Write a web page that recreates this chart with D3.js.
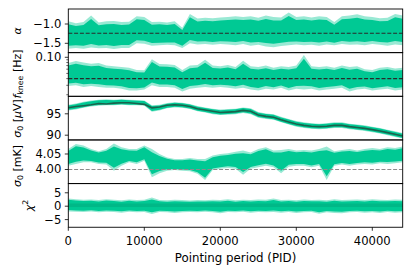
<!DOCTYPE html>
<html>
<head>
<meta charset="utf-8">
<script src="https://cdn.jsdelivr.net/npm/d3@7"></script>
<style>
  body { margin: 0; background: #fff; }
  text { font-family: "DejaVu Sans", sans-serif; fill: #000; }
</style>
</head>
<body>
<svg id="chart" width="412" height="273"></svg>
<script>
// pointing periods sampled every 1000 PID
const pids = [0,1000,2000,3000,4000,5000,6000,7000,8000,9000,10000,11000,12000,13000,14000,15000,16000,17000,18000,19000,20000,21000,22000,23000,24000,25000,26000,27000,28000,29000,30000,31000,32000,33000,34000,35000,36000,37000,38000,39000,40000,41000,42000,43000,44000];
const xTicks = [0, 10000, 20000, 30000, 40000];

// alpha: upper / lower envelope of the scatter
const alphaHi = [-0.93,-0.98,-0.95,-0.78,-0.96,-0.93,-0.92,-0.95,-0.94,-0.80,-0.82,-0.95,-0.94,-0.96,-0.93,-1.10,-0.74,-0.86,-0.84,-0.85,-0.83,-0.82,-0.80,-0.82,-0.80,-0.84,-0.78,-0.82,-0.83,-0.70,-0.82,-0.80,-0.83,-0.80,-0.82,-0.95,-0.80,-0.78,-0.75,-0.80,-0.82,-0.85,-0.84,-0.74,-0.78];
const alphaLo = [-1.64,-1.62,-1.64,-1.61,-1.63,-1.62,-1.65,-1.62,-1.62,-1.50,-1.51,-1.56,-1.55,-1.54,-1.55,-1.62,-1.50,-1.53,-1.52,-1.54,-1.52,-1.53,-1.55,-1.52,-1.56,-1.54,-1.58,-1.60,-1.57,-1.55,-1.53,-1.55,-1.54,-1.56,-1.53,-1.55,-1.52,-1.54,-1.53,-1.55,-1.52,-1.54,-1.56,-1.53,-1.55];
const alphaRef = -1.24;
const alphaTicks = [-1.5, -1.0];

// f_knee [Hz]
const fkHi = [0.078,0.085,0.080,0.076,0.078,0.070,0.068,0.066,0.064,0.058,0.057,0.092,0.075,0.074,0.072,0.058,0.070,0.072,0.090,0.070,0.068,0.072,0.066,0.086,0.068,0.066,0.070,0.064,0.068,0.066,0.070,0.110,0.068,0.066,0.068,0.064,0.070,0.066,0.068,0.060,0.058,0.064,0.066,0.062,0.064];
const fkLo = [0.029,0.030,0.028,0.029,0.028,0.027,0.027,0.026,0.024,0.024,0.025,0.030,0.028,0.028,0.027,0.023,0.026,0.027,0.028,0.027,0.028,0.027,0.026,0.027,0.025,0.024,0.026,0.025,0.027,0.024,0.026,0.025,0.026,0.024,0.025,0.026,0.027,0.023,0.025,0.026,0.024,0.025,0.026,0.024,0.025];
const fkRef = 0.04;
const fkTicks = [0.1];
const fkMinor = [0.02,0.03,0.04,0.05,0.06,0.07,0.08,0.09];

// sigma0 [uV]: scatter band and the dark reference curve
const muHi = [97.1,97.4,97.8,98.1,98.3,98.4,98.3,98.4,98.3,98.2,98.1,97.0,97.1,97.5,97.7,97.6,97.3,96.8,96.5,96.2,96.0,96.1,96.2,96.5,96.3,95.4,95.1,94.9,94.3,93.8,93.3,93.0,92.8,92.7,92.8,93.0,93.0,92.7,92.5,92.3,92.0,91.7,91.3,90.9,90.5];
const muLo = [95.8,96.0,96.4,96.7,96.9,97.0,97.0,97.1,97.0,97.0,96.9,95.5,95.8,96.3,96.5,96.4,96.1,95.6,95.3,94.9,94.7,94.8,94.9,95.2,94.9,94.1,93.8,93.6,93.0,92.5,92.0,91.7,91.5,91.4,91.5,91.7,91.7,91.4,91.2,91.0,90.7,90.4,90.0,89.6,89.2];
const muDark = [96.4,96.7,96.9,97.1,97.4,97.3,97.5,97.6,97.6,97.4,97.2,96.4,96.6,97.0,97.1,97.0,96.7,96.2,95.9,95.6,95.3,95.4,95.5,95.8,95.6,94.7,94.4,94.2,93.6,93.1,92.6,92.3,92.1,92.0,92.1,92.3,92.3,92.0,91.8,91.6,91.3,91.0,90.6,90.2,89.8];
const muTicks = [90, 95];

// sigma0 [mK]
const mkHi = [4.066,4.082,4.077,4.066,4.059,4.066,4.084,4.072,4.066,4.066,4.077,4.066,4.050,4.039,4.034,4.034,4.037,4.034,4.034,4.045,4.050,4.052,4.057,4.061,4.055,4.066,4.072,4.061,4.063,4.066,4.061,4.063,4.061,4.066,4.074,4.059,4.063,4.066,4.061,4.066,4.069,4.066,4.072,4.069,4.074];
const mkLo = [4.012,4.018,4.023,4.023,4.018,4.016,3.996,4.012,4.023,4.018,4.028,3.975,3.988,3.996,3.998,3.996,3.994,3.986,3.966,3.998,4.002,4.005,4.002,3.983,4.002,4.007,4.012,4.007,3.988,4.009,4.012,4.012,4.007,4.012,3.966,4.012,4.016,4.012,4.016,4.018,4.016,4.020,4.018,4.020,4.023];
const mkRef = 4.00;
const mkTicks = [4.00, 4.05];

// chi^2
const chiHi = [2.9,2.6,2.4,2.5,2.3,2.6,2.4,2.2,2.5,2.3,2.4,3.2,2.3,2.2,2.4,2.3,2.1,2.3,2.2,2.4,2.3,2.6,2.2,2.4,2.3,2.5,2.4,2.9,2.3,2.4,2.2,2.5,2.3,2.4,2.2,2.6,2.3,2.4,2.5,2.3,2.6,2.4,2.3,2.5,2.4];
const chiLo = [-2.0,-2.1,-2.2,-2.0,-2.3,-2.1,-2.2,-2.4,-2.1,-2.3,-2.2,-2.9,-2.2,-2.3,-2.5,-2.3,-2.2,-2.3,-2.1,-2.3,-2.6,-2.2,-2.3,-2.1,-2.4,-2.2,-2.3,-2.2,-2.4,-2.2,-2.5,-2.3,-2.2,-2.8,-2.3,-2.5,-2.6,-2.3,-2.2,-2.4,-2.3,-2.5,-2.2,-2.4,-2.3];
const chiCore = [-0.3, 1.0];
const chiTicks = [-5, 0, 5];

const green = "#00c994";
const svg = d3.select("#chart");
const left = 68.3, right = 402.7, top0 = 9, ph = 43.65;
const x = d3.scaleLinear().domain([0, 44000]).range([left, right]);

const panels = [
  { hi: alphaHi, lo: alphaLo, y: d3.scaleLinear().domain([-1.742, -0.611]), ticks: alphaTicks, fmt: d3.format(".1f"), ref: alphaRef, refColor: "#2a2a2a" },
  { hi: fkHi, lo: fkLo, y: d3.scaleLog().domain([0.0187, 0.1221]), ticks: fkTicks, minor: fkMinor, fmt: d3.format(".2f"), ref: fkRef, refColor: "#2a2a2a" },
  { hi: muHi, lo: muLo, y: d3.scaleLinear().domain([88.89, 99.09]), ticks: muTicks, fmt: d3.format("d"), dark: muDark },
  { hi: mkHi, lo: mkLo, y: d3.scaleLinear().domain([3.9545, 4.0953]), ticks: mkTicks, fmt: d3.format(".2f"), ref: mkRef, refColor: "#8c8c8c" },
  { hi: chiHi, lo: chiLo, y: d3.scaleLinear().domain([-7.85, 8.43]), ticks: chiTicks, fmt: d3.format("d"), core: chiCore }
];

panels.forEach((p, i) => {
  const top = top0 + i * ph, bottom = top + ph;
  p.y.range([bottom, top]);
  const y = p.y;

  svg.append("clipPath").attr("id", "clip" + i)
    .append("rect").attr("x", left).attr("y", top).attr("width", right - left).attr("height", ph);
  const g = svg.append("g").attr("clip-path", `url(#clip${i})`);

  // outer envelope (light spikes)
  g.append("path")
    .attr("d", d3.area().x((d, j) => x(pids[j])).y0((d, j) => y(p.lo[j])).y1((d, j) => y(p.hi[j]))(pids))
    .attr("fill", green).attr("fill-opacity", 0.4);

  // dense core of the scatter
  const inset = 0.11;
  g.append("path")
    .attr("d", d3.area()
      .x((d, j) => x(pids[j]))
      .y0((d, j) => { const a = y(p.lo[j]), b = y(p.hi[j]); return a - inset * (a - b); })
      .y1((d, j) => { const a = y(p.lo[j]), b = y(p.hi[j]); return b + inset * (a - b); })(pids))
    .attr("fill", green);

  if (p.core) {
    g.append("rect")
      .attr("x", left).attr("width", right - left)
      .attr("y", y(p.core[1])).attr("height", y(p.core[0]) - y(p.core[1]))
      .attr("fill", "#00a87a").attr("fill-opacity", 0.5);
  }

  if (p.dark) {
    g.append("path")
      .attr("d", d3.line().x((d, j) => x(pids[j])).y((d, j) => y(p.dark[j]))(pids))
      .attr("fill", "none").attr("stroke", "#22483b").attr("stroke-opacity", 0.8)
      .attr("stroke-width", 1.6);
  }

  if (p.ref !== undefined) {
    g.append("line")
      .attr("x1", left).attr("x2", right)
      .attr("y1", y(p.ref)).attr("y2", y(p.ref))
      .attr("stroke", p.refColor).attr("stroke-width", 1.1)
      .attr("stroke-dasharray", "4,1.8");
  }

  // spines
  svg.append("rect")
    .attr("x", left).attr("y", top).attr("width", right - left).attr("height", ph)
    .attr("fill", "none").attr("stroke", "#000").attr("stroke-width", 0.9);

  // y ticks
  p.ticks.forEach(t => {
    svg.append("line").attr("x1", left - 3.5).attr("x2", left)
      .attr("y1", y(t)).attr("y2", y(t)).attr("stroke", "#000").attr("stroke-width", 0.8);
    svg.append("text").attr("x", left - 7).attr("y", y(t))
      .attr("text-anchor", "end").attr("dominant-baseline", "central")
      .attr("font-size", 11.6).text(p.fmt(t));
  });
  (p.minor || []).forEach(t => {
    svg.append("line").attr("x1", left - 2).attr("x2", left)
      .attr("y1", y(t)).attr("y2", y(t)).attr("stroke", "#000").attr("stroke-width", 0.6);
  });
});

// x axis under the last panel
const axisY = top0 + 5 * ph;
xTicks.forEach(t => {
  svg.append("line").attr("x1", x(t)).attr("x2", x(t))
    .attr("y1", axisY).attr("y2", axisY + 3.5).attr("stroke", "#000").attr("stroke-width", 0.8);
  svg.append("text").attr("x", x(t)).attr("y", axisY + 18)
    .attr("text-anchor", "middle").attr("font-size", 11.6).text(t);
});
svg.append("text").attr("x", (left + right) / 2).attr("y", 261.5)
  .attr("text-anchor", "middle").attr("font-size", 11.8).text("Pointing period (PID)");

// y labels
function ylabel(cx, cy, parts) {
  const t = svg.append("text")
    .attr("transform", `translate(${cx},${cy}) rotate(-90)`)
    .attr("text-anchor", "middle").attr("dominant-baseline", "central")
    .attr("font-size", 11);
  parts.forEach(pt => {
    const s = t.append("tspan").text(pt.s);
    if (pt.it) s.attr("font-style", "italic");
    if (pt.size) s.attr("font-size", pt.size);
    if (pt.dy) s.attr("dy", pt.dy);
  });
}
ylabel(17, 30.8, [{ s: "α", it: true }]);
ylabel(17, 74, [{ s: "f", it: true }, { s: "knee", size: 7.8, dy: 2.6 }, { s: " [Hz]", dy: -2.6 }]);
ylabel(17, 118.5, [{ s: "σ", it: true }, { s: "0", size: 7.8, dy: 2.6 }, { s: " [", dy: -2.6 }, { s: "μ", it: true }, { s: "V]" }]);
ylabel(17, 166, [{ s: "σ", it: true }, { s: "0", size: 7.8, dy: 2.6 }, { s: " [mK]", dy: -2.6 }]);
ylabel(29, 205.4, [{ s: "χ", it: true }, { s: "2", size: 7.8, dy: -4 }]);
</script>
</body>
</html>
